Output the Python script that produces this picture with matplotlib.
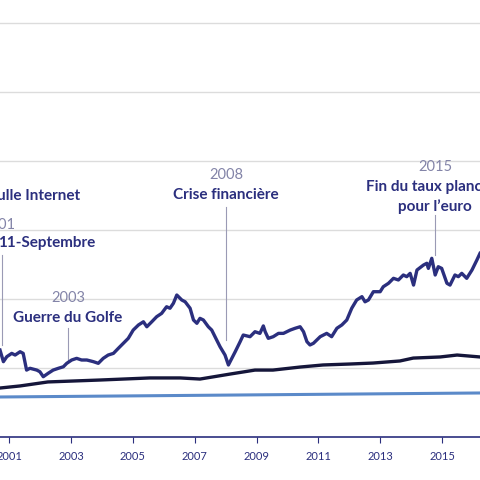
import matplotlib
matplotlib.use("Agg")
import matplotlib.pyplot as plt

plt.rcParams['font.family'] = ['Lato', 'DejaVu Sans']

main_years = [2000.70, 2000.81, 2000.92, 2001.08, 2001.19, 2001.35, 2001.45, 2001.56, 2001.67, 2001.89,
              2001.99, 2002.10, 2002.26, 2002.42, 2002.59, 2002.75, 2002.86, 2003.02, 2003.18, 2003.34,
              2003.51, 2003.72, 2003.88, 2004.04, 2004.20, 2004.37, 2004.53, 2004.69, 2004.85, 2005.01,
              2005.18, 2005.34, 2005.45, 2005.61, 2005.77, 2005.93, 2006.09, 2006.20, 2006.31, 2006.42,
              2006.58, 2006.69, 2006.85, 2006.96, 2007.07, 2007.17, 2007.28, 2007.44, 2007.55, 2007.71,
              2007.82, 2007.98, 2008.09, 2008.20, 2008.31, 2008.47, 2008.57, 2008.79, 2008.95, 2009.11,
              2009.22, 2009.28, 2009.38, 2009.54, 2009.71, 2009.87, 2009.98, 2010.09, 2010.25, 2010.41,
              2010.52, 2010.63, 2010.73, 2010.84, 2011.06, 2011.27, 2011.43, 2011.60, 2011.76, 2011.92,
              2012.08, 2012.24, 2012.41, 2012.51, 2012.62, 2012.78, 2013.00, 2013.10, 2013.27, 2013.43,
              2013.59, 2013.75, 2013.86, 2013.97, 2014.08, 2014.19, 2014.40, 2014.51, 2014.56, 2014.67,
              2014.78, 2014.88, 2014.99, 2015.16, 2015.26, 2015.42, 2015.53, 2015.64, 2015.80, 2015.97,
              2016.13, 2016.23]
main_vals = [113.0, 104.6, 108.2, 110.6, 109.4, 111.8, 110.6, 98.5, 99.8, 98.5,
             97.3, 93.7, 96.2, 98.5, 99.8, 100.9, 103.4, 105.8, 107.0, 105.8,
             105.8, 104.6, 103.4, 107.0, 109.4, 110.6, 114.3, 117.9, 121.5, 127.5,
             131.2, 133.5, 129.9, 133.5, 137.2, 139.6, 144.4, 143.3, 146.9, 152.9,
             149.3, 148.0, 143.3, 134.8, 132.4, 136.0, 134.8, 129.9, 127.5, 120.3,
             115.4, 109.4, 102.2, 107.0, 111.8, 119.1, 123.9, 122.7, 126.3, 125.1,
             130.5, 126.3, 121.5, 122.7, 125.1, 125.1, 126.3, 127.5, 128.8, 129.9,
             126.3, 119.1, 116.7, 117.9, 122.7, 125.1, 122.7, 128.8, 131.2, 134.8,
             143.3, 149.3, 151.7, 148.0, 149.3, 155.3, 155.3, 158.9, 161.4, 165.0,
             163.8, 167.4, 166.2, 168.6, 160.1, 171.0, 174.6, 175.9, 172.2, 179.5,
             167.4, 173.4, 172.2, 161.4, 160.1, 167.4, 166.2, 168.6, 165.0, 171.0,
             178.3, 183.1]

avg_years = [2000.70, 2001.35, 2002.25, 2003.94, 2005.55, 2006.53, 2007.17, 2008.14, 2008.95, 2009.53,
             2010.41, 2011.15, 2012.03, 2012.77, 2013.64, 2014.07, 2014.94, 2015.49, 2016.23]
avg_vals = [85.5, 87.0, 89.9, 91.3, 92.8, 92.8, 92.0, 95.6, 98.5, 98.5,
            100.7, 102.2, 102.9, 103.6, 105.1, 107.2, 108.0, 109.4, 108.0]

base_years = [2000.70, 2016.23]
base_vals = [79.0, 81.9]

tick_years = [2001, 2003, 2005, 2007, 2009, 2011, 2013, 2015]
grid_vals = [100, 150, 200, 250, 300, 350]

NAVY = '#2b2f7e'
DARK = '#15163a'
LIGHT = '#5b8ac9'
GREY = '#8384a8'

fig = plt.figure(figsize=(4.8, 4.8), dpi=100)
ax = fig.add_axes([0, 43/480, 1, 437/480])
ax.set_xlim(2000.70, 2016.23)
ax.set_ylim(50, 366.7)

for g in grid_vals:
    ax.axhline(g, color='#dcdcdc', lw=1, zorder=0)

ax.plot(base_years, base_vals, color=LIGHT, lw=2.2, zorder=2)
ax.plot(avg_years, avg_vals, color=DARK, lw=2.4, zorder=3)
ax.plot(main_years, main_vals, color=NAVY, lw=2.4, zorder=4)

for s in ['top', 'left', 'right']:
    ax.spines[s].set_visible(False)
ax.spines['bottom'].set_color(NAVY)
ax.spines['bottom'].set_linewidth(1.2)
ax.set_yticks([])
ax.set_xticks(tick_years)
ax.set_xticklabels([str(y) for y in tick_years])
ax.tick_params(axis='x', colors=NAVY, labelsize=8, length=4, pad=6)

bold = dict(color=NAVY, fontsize=11, fontweight='bold')
year = dict(color=GREY, fontsize=10.5)
ln = dict(color='#9a9ab5', lw=0.8, zorder=1)

ax.text(2003.29, 224.6, 'Bulle Internet', ha='right', va='center', **bold)
ax.text(2001.19, 203.6, '2001', ha='right', va='center', **year)
ax.text(2003.77, 190.6, '11-Septembre', ha='right', va='center', **bold)
ax.plot([2000.76, 2000.76], [181.9, 116.7], **ln)

ax.text(2002.90, 150.7, '2003', ha='center', va='center', **year)
ax.text(2002.90, 136.2, 'Guerre du Golfe', ha='center', va='center', **bold)
ax.plot([2002.90, 2002.90], [129.0, 105.8], **ln)

ax.text(2008.01, 239.8, '2008', ha='center', va='center', **year)
ax.text(2008.01, 225.4, 'Crise financière', ha='center', va='center', **bold)
ax.plot([2008.01, 2008.01], [216.7, 120.3], **ln)

ax.text(2014.78, 245.6, '2015', ha='center', va='center', **year)
ax.text(2014.78, 231.2, 'Fin du taux plancher', ha='center', va='center', **bold)
ax.text(2014.78, 216.7, 'pour l\u2019euro', ha='center', va='center', **bold)
ax.plot([2014.78, 2014.78], [210.9, 181.9], **ln)

fig.savefig('out.png', dpi=100)
